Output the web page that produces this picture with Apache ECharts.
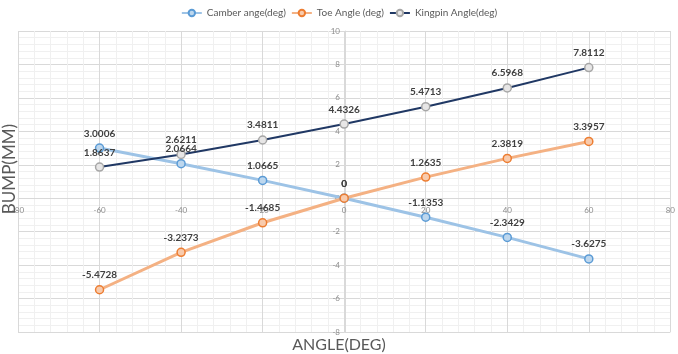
<!DOCTYPE html>
<html lang="en">
<head>
    <meta charset="utf-8">
    <title>Bump steer</title>
    <script src="https://cdn.jsdelivr.net/npm/echarts@6/dist/echarts.min.js"></script>
    <style>
        html, body { margin: 0; padding: 0; background: #fff; }
    </style>
</head>
<body>
<div id="Bump_Chart" style="width: 678px;height:354px;"></div>

<script>
    let angles = [-60, -40, -20, 0, 20, 40, 60];
    let camber = [3.0006, 2.0664, 1.0665, 0, -1.1353, -2.3429, -3.6275];
    let toe = [-5.4728, -3.2373, -1.4685, 0, 1.2635, 2.3819, 3.3957];
    let kingpin = [1.8637, 2.6211, 3.4811, 4.4326, 5.4713, 6.5968, 7.8112];
    let names = ['Camber ange(deg)', 'Toe Angle (deg)', 'Kingpin Angle(deg)'];

    // grid box, used to put the axes through the origin
    let gLeft = 18, gRight = 6, gTop = 31, gBottom = 22;
    let gW = 678 - gLeft - gRight, gH = 354 - gTop - gBottom;
    let xMin = -80, xMax = 80, yMin = -8, yMax = 10;

    function pairs(vals) {
        let out = [];
        for (let i = 0; i < angles.length; i++) {
            out.push([angles[i], vals[i]]);
        }
        return out;
    }

    function makeSeries(name, vals, color, ring, fill, width) {
        return {
            name: name,
            type: 'line',
            data: pairs(vals),
            symbol: 'circle',
            symbolSize: 8,
            lineStyle: {color: color, width: width},
            itemStyle: {color: fill, borderColor: ring, borderWidth: 1.5},
            label: {
                show: true,
                position: 'top',
                distance: 5,
                color: '#404040',
                fontWeight: 'bold',
                fontSize: 10,
                fontFamily: 'Lato',
                formatter: function (p) { return p.value[1]; }
            }
        };
    }

    let myChart = echarts.init(document.getElementById('Bump_Chart'));
    let option = {
        animation: false,
        textStyle: {fontFamily: 'Lato'},
        legend: {
            top: 3,
            left: 'center',
            itemWidth: 20,
            itemHeight: 8,
            itemGap: 5,
            textStyle: {fontSize: 10, color: '#595959'},
            data: names
        },
        grid: {left: gLeft, right: gRight, top: gTop, bottom: gBottom},
        xAxis: {
            type: 'value',
            min: xMin,
            max: xMax,
            interval: 20,
            position: 'bottom',
            offset: -gH * (0 - yMin) / (yMax - yMin),
            axisLine: {onZero: false, lineStyle: {color: '#d9d9d9'}},
            axisTick: {show: false},
            axisLabel: {fontSize: 8, color: '#8c8c8c', margin: 8},
            splitLine: {lineStyle: {color: '#d9d9d9'}},
            minorTick: {show: false, splitNumber: 5},
            minorSplitLine: {show: true, lineStyle: {color: '#f0f0f0'}}
        },
        yAxis: {
            type: 'value',
            min: yMin,
            max: yMax,
            interval: 2,
            position: 'left',
            offset: -gW * (0 - xMin) / (xMax - xMin),
            axisLine: {show: true, onZero: false, lineStyle: {color: '#d9d9d9'}},
            axisTick: {show: false},
            axisLabel: {fontSize: 8, color: '#8c8c8c', margin: 5},
            splitLine: {lineStyle: {color: '#d9d9d9'}},
            minorTick: {show: false, splitNumber: 5},
            minorSplitLine: {show: true, lineStyle: {color: '#f0f0f0'}}
        },
        graphic: [
            {
                type: 'text',
                left: 1,
                top: 124,
                rotation: Math.PI / 2,
                style: {text: 'BUMP(MM)', fontSize: 17, fill: '#595959', fontFamily: 'Lato'}
            },
            {
                type: 'text',
                left: 'center',
                bottom: 1,
                style: {text: 'ANGLE(DEG)', fontSize: 16, fill: '#595959', fontFamily: 'Lato'}
            }
        ],
        series: [
            makeSeries(names[0], camber, '#9dc3e6', '#5b9bd5', '#bdd7ee', 3),
            makeSeries(names[1], toe, '#f4b183', '#ed7d31', '#f8cbad', 3),
            makeSeries(names[2], kingpin, '#203864', '#a6a6a6', '#e7e6e6', 2)
        ]
    };
    myChart.setOption(option);
</script>
</body>
</html>
